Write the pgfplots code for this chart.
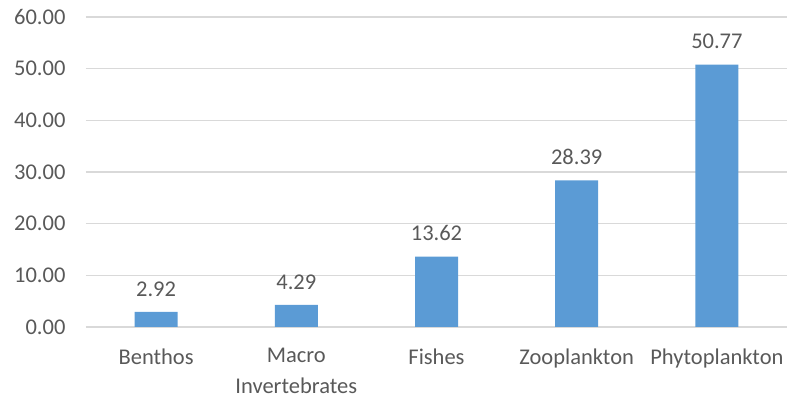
\documentclass[border=0pt]{standalone}
\usepackage{pgfplots}
\pgfplotsset{compat=1.18}
\usepackage{fontspec}
\setmainfont{Carlito}
\definecolor{barblue}{HTML}{5B9BD5}
\definecolor{txtgray}{HTML}{595959}
\definecolor{gridgray}{HTML}{D9D9D9}
\begin{document}
\begin{tikzpicture}
\begin{axis}[
  scale only axis,
  width=701pt, height=310pt,
  xmin=-0.5, xmax=4.5,
  ymin=0, ymax=60,
  ytick={0,10,...,60},
  xtick=data,
  xticklabels={Benthos,{Macro\\Invertebrates},Fishes,Zooplankton,Phytoplankton},
  xticklabel style={align=center, font=\fontsize{22.5}{31}\selectfont, text=txtgray, yshift=-18pt},
  yticklabel style={font=\fontsize{22.5}{28}\selectfont, text=txtgray, xshift=-17pt},
  /pgf/number format/assume math mode=true,
  yticklabel={\pgfmathprintnumber[fixed,fixed zerofill,precision=2]{\tick}},
  major tick length=0pt,
  axis line style={draw=none},
  ymajorgrids,
  grid style={gridgray, line width=1.4pt},
  ybar, bar width=43pt,
  nodes near coords={\pgfmathprintnumber[fixed,fixed zerofill,precision=2]{\pgfplotspointmeta}},
  nodes near coords style={font=\fontsize{22.5}{28}\selectfont, text=txtgray, yshift=12pt},
  clip=false,
]
\addplot[fill=barblue, draw=none] coordinates {
  (0,2.92) (1,4.29) (2,13.62) (3,28.39) (4,50.77)
};
\end{axis}
\path (current axis.south west) ++(-86pt,-76pt) coordinate (bbA);
\path (current axis.north east) ++(2pt,17pt) coordinate (bbB);
\path (bbA) rectangle (bbB);
\end{tikzpicture}
\end{document}
